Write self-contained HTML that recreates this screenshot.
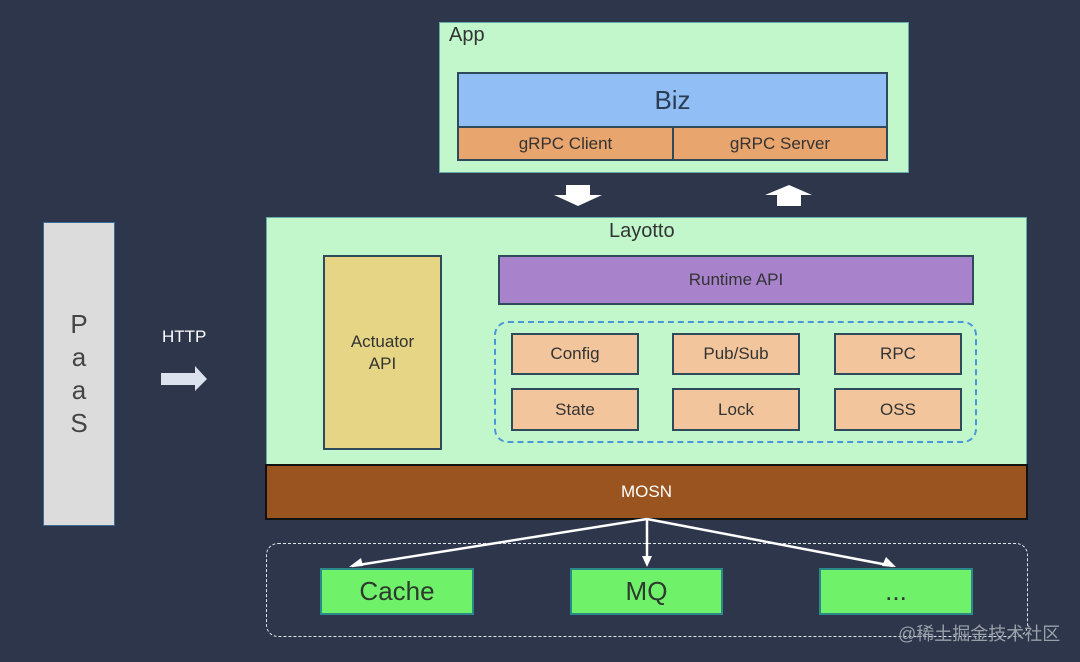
<!DOCTYPE html>
<html><head><meta charset="utf-8"><style>
html,body{margin:0;padding:0}
body{width:1080px;height:662px;background:#2d364a;position:relative;overflow:hidden;font-family:"Liberation Sans","Noto Sans CJK SC",sans-serif}
.b{position:absolute;box-sizing:border-box;display:flex;align-items:center;justify-content:center;text-align:center;color:#333}
.sm{background:#f2c59c;border:2px solid #2f4a5a;font-size:17px}
.g{background:#6ff26a;border:2px solid #2a8a8a;font-size:26px;color:#2d3a2d}
</style></head><body>
<!-- App -->
<div class="b" style="left:439px;top:22px;width:470px;height:151px;background:#c2f7cc;border:1px solid #6aa;"></div>
<div style="position:absolute;left:449px;top:24px;font-size:20px;color:#333">App</div>
<div class="b" style="left:457px;top:72px;width:431px;height:56px;background:#91bff5;border:2px solid #2f4a5a;font-size:26px;color:#2b3b52">Biz</div>
<div class="b" style="left:457px;top:126px;width:217px;height:35px;background:#e9a56e;border:2px solid #2f4a5a;font-size:17px">gRPC Client</div>
<div class="b" style="left:672px;top:126px;width:216px;height:35px;background:#e9a56e;border:2px solid #2f4a5a;font-size:17px">gRPC Server</div>
<!-- up/down arrows -->
<svg style="position:absolute;left:0;top:0" width="1080" height="662">
<polygon points="566,185 590,185 590,195 602,195 578,206 554,195 566,195" fill="#fff"/>
<polygon points="777,206 801,206 801,195 812,195 789,185 765,195 777,195" fill="#fff"/>
<polygon points="161,373 195,373 195,366 207,379 195,391 195,385 161,385" fill="#dde3ee"/>
</svg>
<!-- PaaS -->
<div class="b" style="left:43px;top:222px;width:72px;height:304px;background:#dcdcdc;border:1px solid #3a6a9a;font-size:26px;line-height:33px;color:#444">P<br>a<br>a<br>S</div>
<div style="position:absolute;left:162px;top:327px;font-size:17px;color:#fff">HTTP</div>
<!-- Layotto -->
<div class="b" style="left:266px;top:217px;width:761px;height:248px;background:#c2f7cc;border:1px solid #6aa;"></div>
<div style="position:absolute;left:609px;top:220px;font-size:20px;color:#333">Layotto</div>
<div class="b" style="left:323px;top:255px;width:119px;height:195px;background:#e5d584;border:2px solid #2f4a5a;font-size:17px;line-height:22px">Actuator<br>API</div>
<div class="b" style="left:498px;top:255px;width:476px;height:50px;background:#a883cc;border:2px solid #2f4a5a;font-size:17px">Runtime API</div>
<div style="position:absolute;left:494px;top:321px;width:483px;height:122px;box-sizing:border-box;border:2.5px dashed #4a97d8;border-radius:14px"></div>
<div class="b sm" style="left:511px;top:333px;width:128px;height:42px">Config</div>
<div class="b sm" style="left:672px;top:333px;width:128px;height:42px">Pub/Sub</div>
<div class="b sm" style="left:834px;top:333px;width:128px;height:42px">RPC</div>
<div class="b sm" style="left:511px;top:388px;width:128px;height:43px">State</div>
<div class="b sm" style="left:672px;top:388px;width:128px;height:43px">Lock</div>
<div class="b sm" style="left:834px;top:388px;width:128px;height:43px">OSS</div>
<!-- MOSN -->
<div class="b" style="left:265px;top:464px;width:763px;height:56px;background:#9a541f;border:2px solid #111;font-size:17px;color:#fff">MOSN</div>
<!-- bottom -->
<div style="position:absolute;left:266px;top:543px;width:762px;height:94px;box-sizing:border-box;border:1.5px dashed #dfe3ea;border-radius:12px"></div>
<div class="b g" style="left:320px;top:568px;width:154px;height:47px">Cache</div>
<div class="b g" style="left:570px;top:568px;width:153px;height:47px">MQ</div>
<div class="b g" style="left:819px;top:568px;width:154px;height:47px">...</div>
<svg style="position:absolute;left:0;top:0" width="1080" height="662">
<g stroke="#fff" stroke-width="2.5" fill="none">
<line x1="647" y1="519" x2="352" y2="566"/>
<line x1="647" y1="519" x2="647" y2="564"/>
<line x1="647" y1="519" x2="893" y2="566"/>
</g>
<g fill="#fff">
<polygon points="349,567 361,558 363,566"/>
<polygon points="647,567 642,556 652,556"/>
<polygon points="896,567 882,566 886,557"/>
</g>
</svg>
<div style="position:absolute;left:898px;top:620px;font-size:18px;color:#9aa0aa">@稀土掘金技术社区</div>
</body></html>
